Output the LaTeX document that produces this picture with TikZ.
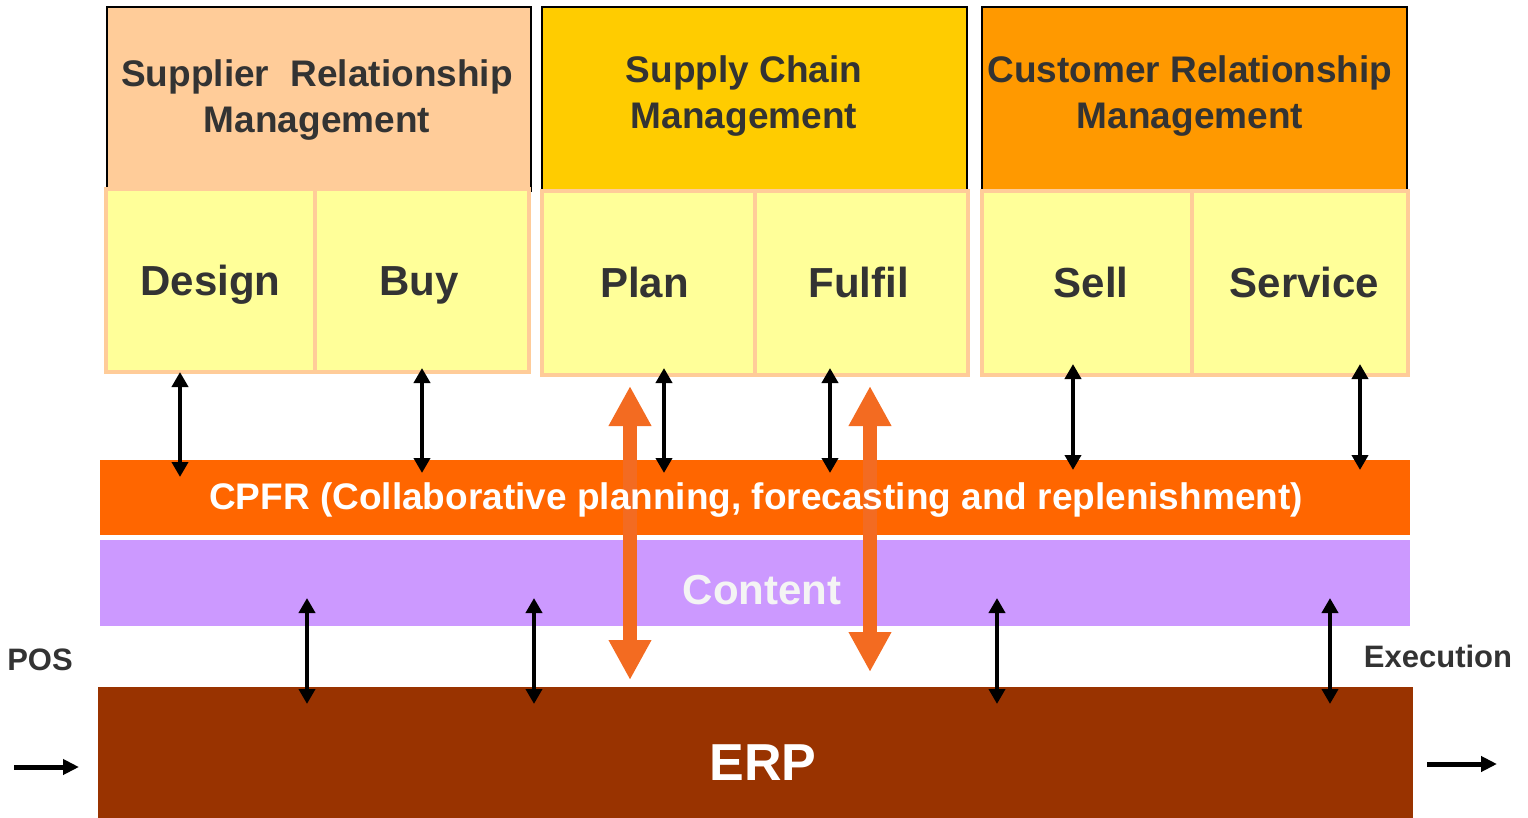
\documentclass[tikz,border=0pt]{standalone}
\usepackage{fontspec}
\setmainfont{Liberation Sans}
\usetikzlibrary{arrows.meta}
\definecolor{srmfill}{HTML}{FFCC99}
\definecolor{scmfill}{HTML}{FFCC00}
\definecolor{crmfill}{HTML}{FF9900}
\definecolor{subfill}{HTML}{FFFF99}
\definecolor{subedge}{HTML}{FFCC99}
\definecolor{cpfrfill}{HTML}{FF6600}
\definecolor{contentfill}{HTML}{CC99FF}
\definecolor{erpfill}{HTML}{993300}
\definecolor{flowor}{HTML}{F36B21}
\definecolor{textgrey}{HTML}{333333}
\definecolor{softwhite}{HTML}{F4F4F4}
\begin{document}
\begin{tikzpicture}[x=1pt,y=-1pt,
  headbox/.style={draw=black, line width=2pt, anchor=north west, inner sep=0pt, outer sep=0pt},
  headtext/.style={inner sep=0pt, text=textgrey, font=\fontsize{37}{46}\selectfont\bfseries, align=center},
  subbox/.style={draw=subedge, fill=subfill, line width=4pt, anchor=north west, inner sep=0pt,
    outer sep=0pt, text=textgrey, font=\fontsize{42}{50}\selectfont\bfseries,
    text height=30pt, text depth=0pt},
  band/.style={anchor=north west, inner sep=0pt, outer sep=0pt},
  bandtext/.style={inner sep=0pt, font=\bfseries},
  link/.style={draw=black, line width=4pt,
    {Triangle[width=16pt,length=15pt]}-{Triangle[width=16pt,length=15pt]}},
  flow/.style={draw=flowor, line width=14pt,
    {Triangle[width=40pt,length=40pt]}-{Triangle[width=40pt,length=40pt]}},
  sidearrow/.style={draw=black, line width=5pt, -{Triangle[width=15pt,length=16pt]}},
  sidetext/.style={inner sep=0pt, text=textgrey, font=\fontsize{31}{36}\selectfont\bfseries}
]
\useasboundingbox (0,0) rectangle (1528,818);

% management headers
\node[headbox, fill=srmfill, minimum width=424pt, minimum height=184pt] (srm) at (107,7) {};
\node[headbox, fill=scmfill, minimum width=425pt, minimum height=184pt] (scm) at (542,7) {};
\node[headbox, fill=crmfill, minimum width=425pt, minimum height=184pt] (crm) at (982,7) {};
\node[headtext] (srmtext) at (317,100) {Supplier\hspace{0.3em} Relationship\\Management};
\node[headtext] (scmtext) at (744,96) {Supply Chain\\Management};
\node[headtext] (crmtext) at (1190,96) {Customer Relationship\\Management};

% process boxes
\node[subbox, minimum width=209pt, minimum height=183pt] (design) at (106,189) {Design};
\node[subbox, minimum width=214pt, minimum height=183pt] (buy) at (315,189) {\hspace*{-6pt}Buy};
\node[subbox, minimum width=213pt, minimum height=184pt] (plan) at (542,191) {\hspace*{-8pt}Plan};
\node[subbox, minimum width=213pt, minimum height=184pt] (fulfil) at (755,191) {\hspace*{-6pt}Fulfil};
\node[subbox, minimum width=210pt, minimum height=184pt] (sell) at (982,191) {Sell\hspace*{-8pt}};
\node[subbox, minimum width=216pt, minimum height=184pt] (service) at (1192,191) {Service\hspace*{-9pt}};

% layers
\node[band, fill=cpfrfill, minimum width=1310pt, minimum height=75pt] (cpfr) at (100,460) {};
\node[band, fill=contentfill, minimum width=1310pt, minimum height=86pt] (content) at (100,540) {};
\node[band, fill=erpfill, minimum width=1315pt, minimum height=131pt] (erp) at (98,687) {};

% x positions of the connectors
\coordinate (u1) at (180,0);
\coordinate (u2) at (422,0);
\coordinate (u3) at (664,0);
\coordinate (u4) at (830,0);
\coordinate (u5) at (1073,0);
\coordinate (u6) at (1360,0);
\coordinate (l1) at (307,0);
\coordinate (l2) at (534,0);
\coordinate (l3) at (997,0);
\coordinate (l4) at (1330,0);
\coordinate (o1) at (630,0);
\coordinate (o2) at (870,0);

% wide flows from planning down to ERP
\draw[flow, shorten <=11pt, shorten >=7pt] (plan.south -| o1) -- (erp.north -| o1);
\draw[flow, shorten <=11pt, shorten >=15pt] (fulfil.south -| o2) -- (erp.north -| o2);

% process boxes to CPFR
\draw[link, shorten >=-17pt] (design.south -| u1) -- (cpfr.north -| u1);
\draw[link, shorten <=-4pt, shorten >=-13pt] (buy.south -| u2) -- (cpfr.north -| u2);
\draw[link, shorten <=-7pt, shorten >=-13pt] (plan.south -| u3) -- (cpfr.north -| u3);
\draw[link, shorten <=-7pt, shorten >=-13pt] (fulfil.south -| u4) -- (cpfr.north -| u4);
\draw[link, shorten <=-11pt, shorten >=-10pt] (sell.south -| u5) -- (cpfr.north -| u5);
\draw[link, shorten <=-11pt, shorten >=-10pt] (service.south -| u6) -- (cpfr.north -| u6);

% content to ERP
\draw[link, shorten <=-28pt, shorten >=-17pt] (content.south -| l1) -- (erp.north -| l1);
\draw[link, shorten <=-28pt, shorten >=-17pt] (content.south -| l2) -- (erp.north -| l2);
\draw[link, shorten <=-28pt, shorten >=-17pt] (content.south -| l3) -- (erp.north -| l3);
\draw[link, shorten <=-28pt, shorten >=-17pt] (content.south -| l4) -- (erp.north -| l4);

% layer captions
\node[bandtext, text=white, font=\fontsize{37}{44}\selectfont\bfseries] (cpfrtext) at (756,500)
  {CPFR (Collaborative planning, forecasting and replenishment)};
\node[bandtext, text=softwhite, font=\fontsize{42}{50}\selectfont\bfseries] (contenttext) at (762,590) {Content};
\node[bandtext, text=white, font=\fontsize{52}{60}\selectfont\bfseries] (erptext) at (763,763) {ERP};

% input and output
\node[sidetext] (pos) at (40,660) {POS};
\node[sidetext] (exec) at (1438,656) {Execution};
\coordinate (posstart) at (14,767);
\coordinate (execend) at (1497,764);
\draw[sidearrow, shorten >=19pt] (posstart) -- (erp.west |- posstart);
\draw[sidearrow, shorten <=14pt] (erp.east |- execend) -- (execend);
\end{tikzpicture}
\end{document}
